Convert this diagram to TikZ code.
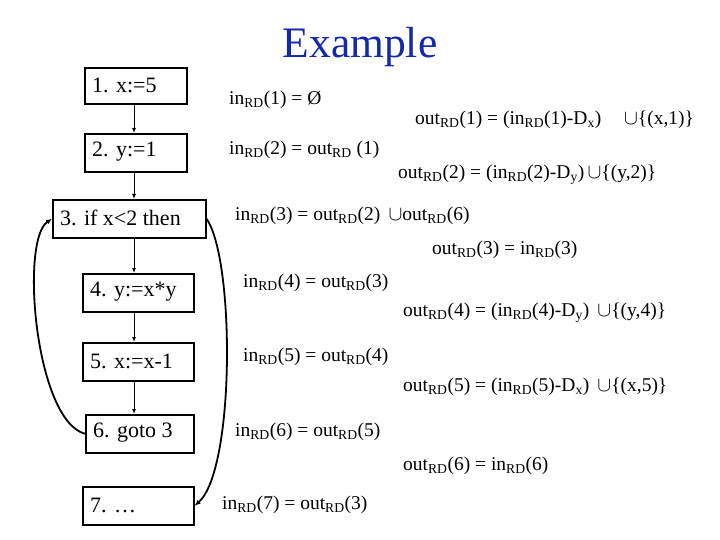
\documentclass[tikz,border=0pt]{standalone}
\usepackage{fontspec}
\usetikzlibrary{arrows.meta}
\setmainfont{Liberation Serif}
\definecolor{ttl}{RGB}{20,40,170}
\newcommand{\rdx}{\textsubscript{RD}}
\newcommand{\un}{\,$\cup$}
\begin{document}
\begin{tikzpicture}[x=1pt,y=-1pt,
  blk/.style={draw,line width=1.6pt,anchor=north west,inner sep=0pt},
  btxt/.style={anchor=west,font=\fontsize{22}{24}\selectfont,inner sep=0pt},
  eq/.style={anchor=west,inner sep=0pt,font=\fontsize{19.5}{21}\selectfont},
  arr/.style={-{Latex[length=5pt,width=4pt]},line width=1pt},
  loop/.style={-{Latex[length=6pt,width=5pt]},line width=1.8pt}]
\path[use as bounding box] (0,0) rectangle (720,540);
\node[font=\fontsize{43.5}{46}\selectfont,text=ttl] (title) at (360,47) {Example};
\node[blk,minimum width=102pt,minimum height=36pt] (b1) at (84,67) {};
\node[btxt] at (92,85) {1. x:=5};
\node[blk,minimum width=102pt,minimum height=38pt] (b2) at (84,133) {};
\node[btxt] at (92,152) {2. y:=1};
\node[blk,minimum width=153pt,minimum height=38pt] (b3) at (52,199) {};
\node[btxt] at (60,218) {3. if x<2 then};
\node[blk,minimum width=111pt,minimum height=38pt] (b4) at (82,273) {};
\node[btxt] at (90,292) {4. y:=x*y};
\node[blk,minimum width=111pt,minimum height=38pt] (b5) at (82,342) {};
\node[btxt] at (90,361) {5. x:=x-1};
\node[blk,minimum width=108pt,minimum height=38pt] (b6) at (85,414) {};
\node[btxt] at (93,433) {6. goto 3};
\node[blk,minimum width=111pt,minimum height=38pt] (b7) at (82,486) {};
\node[btxt] at (90,505) {7. …};
\draw[arr] (b1.south -| 134,0) -- (b2.north -| 134,0);
\draw[arr] (b2.south -| 134,0) -- (b3.north -| 134,0);
\draw[arr] (b3.south -| 134,0) -- (b4.north -| 134,0);
\draw[arr] (b4.south -| 134,0) -- (b5.north -| 134,0);
\draw[arr] (b5.south -| 134,0) -- (b6.north -| 134,0);
\draw[loop] (b6.west) .. controls (35,420) and (20,240) .. (b3.west);
\draw[loop] (b3.east) .. controls (235,260) and (235,470) .. (b7.east);
\node[eq] (e1) at (229,100) {in\rdx(1) = Ø};
\node[eq] (e2) at (415,120) {out\rdx(1) = (in\rdx(1)-D\textsubscript{x})\quad\un\{(x,1)\}};
\node[eq] (e3) at (229,150) {in\rdx(2) = out\rdx\ (1)};
\node[eq] (e4) at (398,175) {out\rdx(2) = (in\rdx(2)-D\textsubscript{y})\un\{(y,2)\}};
\node[eq] (e5) at (235,216) {in\rdx(3) = out\rdx(2)\ \un out\rdx(6)};
\node[eq] (e6) at (432,250) {out\rdx(3) = in\rdx(3)};
\node[eq] (e7) at (243,283) {in\rdx(4) = out\rdx(3)};
\node[eq] (e8) at (403,313) {out\rdx(4) = (in\rdx(4)-D\textsubscript{y})\ \un\{(y,4)\}};
\node[eq] (e9) at (243,357) {in\rdx(5) = out\rdx(4)};
\node[eq] (e10) at (403,387) {out\rdx(5) = (in\rdx(5)-D\textsubscript{x})\ \un\{(x,5)\}};
\node[eq] (e11) at (235,432) {in\rdx(6) = out\rdx(5)};
\node[eq] (e12) at (403,466) {out\rdx(6) = in\rdx(6)};
\node[eq] (e13) at (222,505) {in\rdx(7) = out\rdx(3)};
\end{tikzpicture}
\end{document}
